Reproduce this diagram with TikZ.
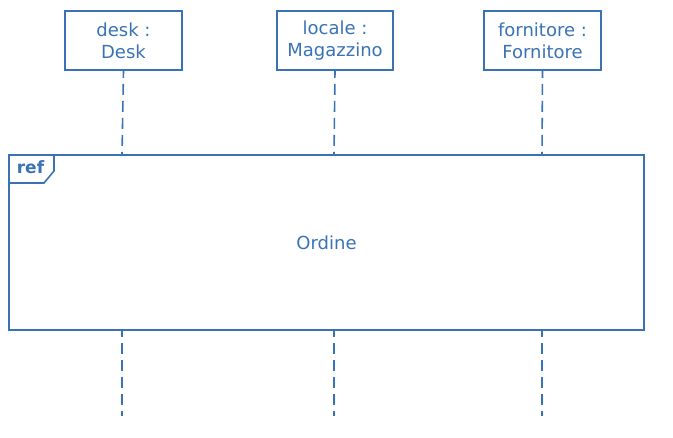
\documentclass[tikz,border=0pt]{standalone}
\usepackage{fontspec}
\setmainfont{DejaVu Sans}
\definecolor{umlblue}{HTML}{3A73B5}
\begin{document}
\begin{tikzpicture}[x=1pt,y=-1pt,
  every node/.style={text=umlblue,font=\fontsize{18}{22}\selectfont},
  obj/.style={draw=umlblue,line width=1.6pt,minimum width=117pt,minimum height=59pt,align=center,inner sep=0pt,fill=white},
  lifeline/.style={draw=umlblue,line width=1.6pt,dash pattern=on 11pt off 6pt,dash phase=4pt},
  frame/.style={draw=umlblue,line width=1.6pt}]
\useasboundingbox (0,0) rectangle (673,438);
\node[obj] (desk) at (123.5,40.5) {desk :\\Desk};
\node[obj,minimum width=116pt] (locale) at (335,40.5) {locale :\\Magazzino};
\node[obj] (forn) at (542.5,40.5) {fornitore :\\Fornitore};
\coordinate (d1) at (122,155); \coordinate (d2) at (122,330); \coordinate (d3) at (122,416);
\coordinate (l1) at (334,155); \coordinate (l2) at (334,330); \coordinate (l3) at (334,416);
\coordinate (f1) at (542,155); \coordinate (f2) at (542,330); \coordinate (f3) at (542,416);
\draw[lifeline] (desk.south) -- (d1);
\draw[lifeline] (locale.south) -- (l1);
\draw[lifeline] (forn.south) -- (f1);
\draw[lifeline] (d2) -- (d3);
\draw[lifeline] (l2) -- (l3);
\draw[lifeline] (f2) -- (f3);
\node[frame,minimum width=635pt,minimum height=175pt,inner sep=0pt] (ref) at (326.5,242.5) {Ordine};
\draw[frame] (9,183) -- (44,183) -- (54,171) -- (54,155);
\node[font=\bfseries\fontsize{17}{18}\selectfont,anchor=center] (reflbl) at (30.5,167) {ref};
\end{tikzpicture}
\end{document}
